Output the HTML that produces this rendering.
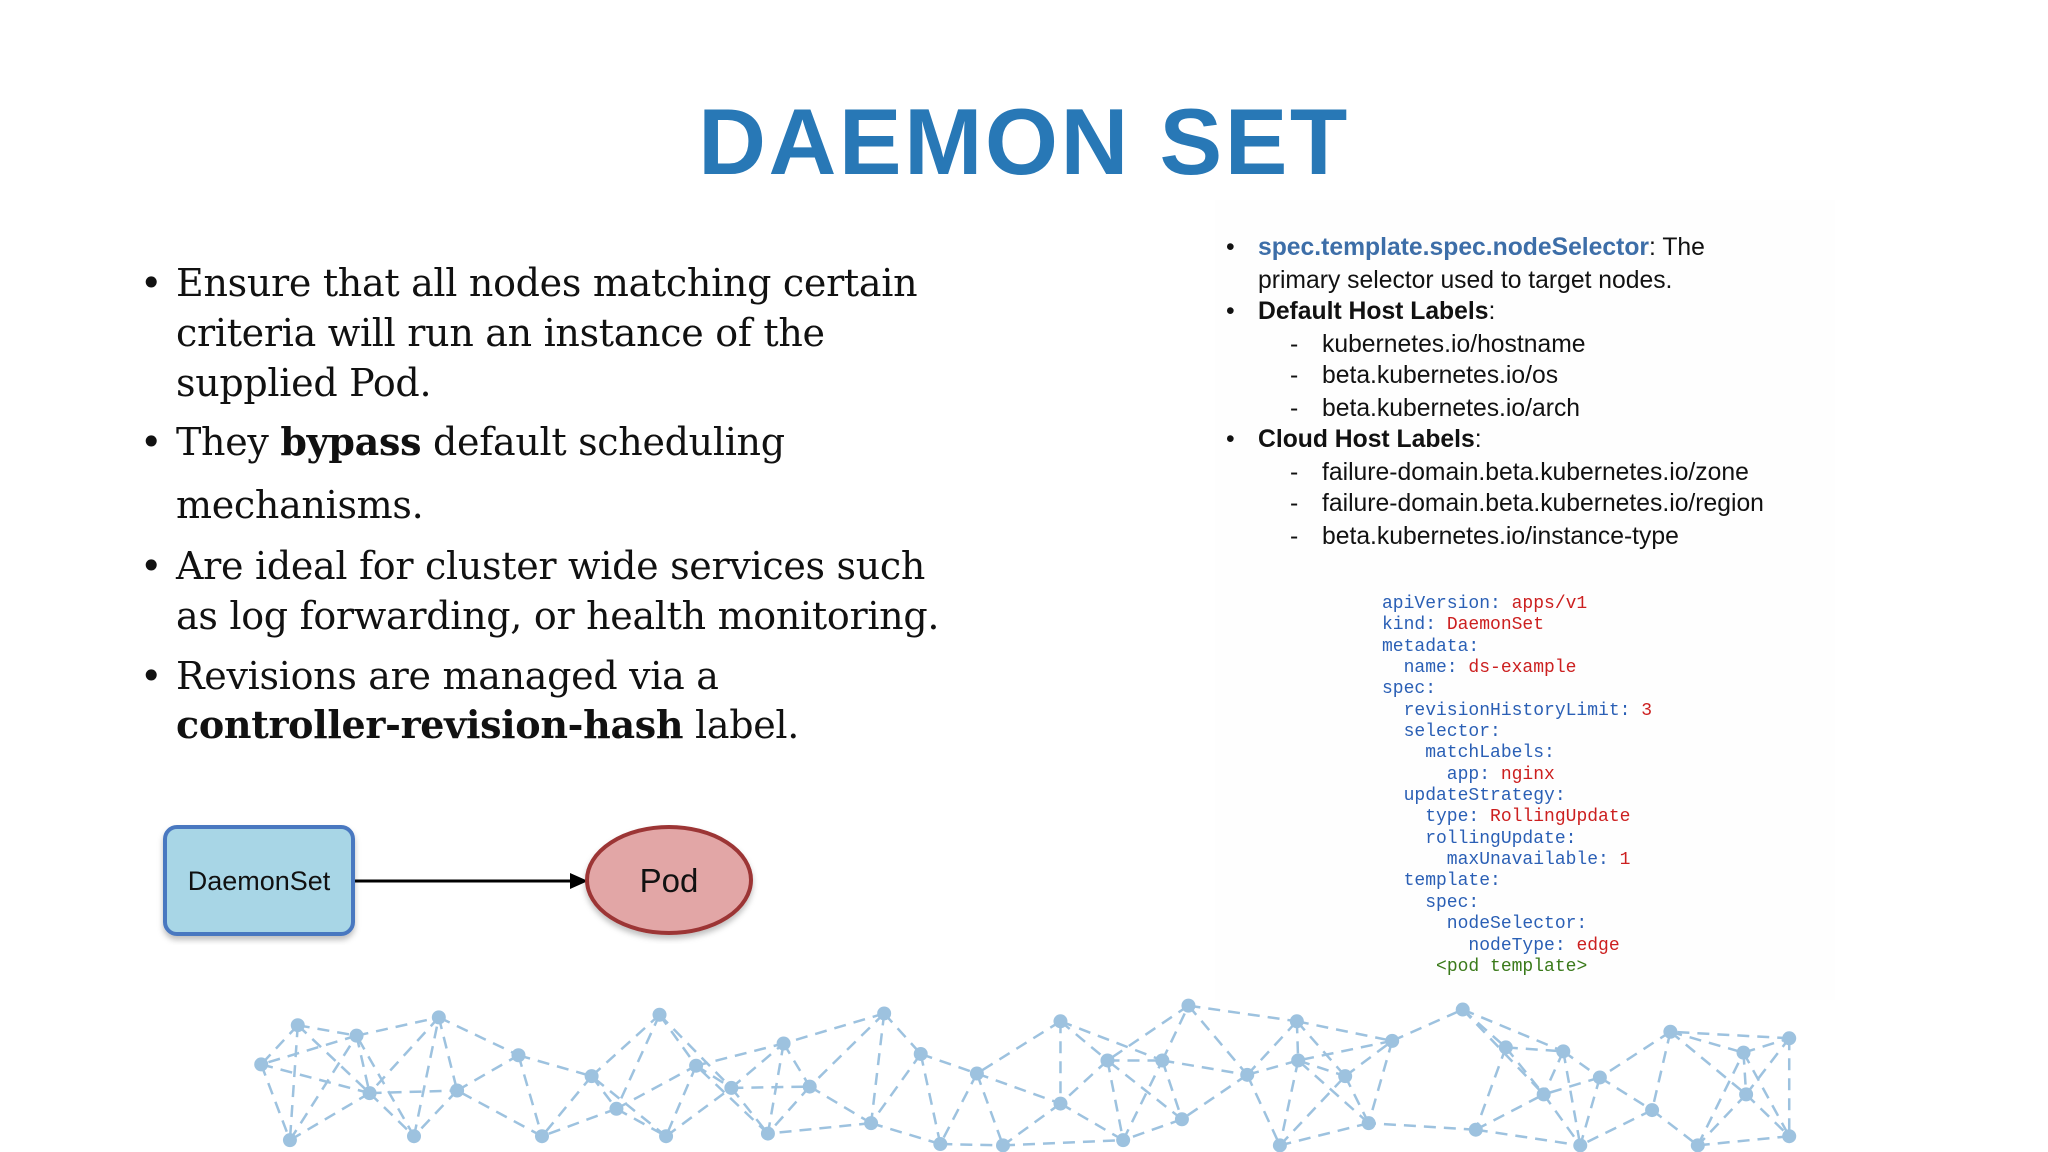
<!DOCTYPE html>
<html><head><meta charset="utf-8">
<style>
html,body{margin:0;padding:0}
body{width:2048px;height:1152px;position:relative;overflow:hidden;background:#fff;font-family:"Liberation Sans",sans-serif}
.rp{position:absolute;left:1215px;top:200px;width:620px;height:800px;background:#fefefe}
.t{position:absolute;white-space:nowrap}
.title{left:0;width:2048px;text-align:center;top:88px;font-size:94px;font-weight:bold;color:#2878b6;letter-spacing:2.5px}
.l{font-family:"DejaVu Serif",serif;font-size:38px;color:#111;left:176px;line-height:50px;letter-spacing:-0.3px}
.lb{font-family:"DejaVu Serif",serif;font-size:38px;color:#111;left:140px;line-height:50px}
.r{font-size:24.7px;color:#111;line-height:32px}
.code{position:absolute;left:1382px;top:594px;font-family:"Liberation Mono",monospace;font-size:18px;line-height:21.35px;color:#2a5fb5;white-space:pre;margin:0}
.v{color:#cc1f1f}.g{color:#3a7a1a}
</style></head><body>
<div class="rp"></div>
<div class="t title">DAEMON SET</div>

<div class="t lb" style="top:258px">•</div>
<div class="t l" style="top:258px">Ensure that all nodes matching certain</div>
<div class="t l" style="top:308px">criteria will run an instance of the</div>
<div class="t l" style="top:358px">supplied Pod.</div>
<div class="t lb" style="top:417px">•</div>
<div class="t l" style="top:417px">They <b>bypass</b> default scheduling</div>
<div class="t l" style="top:480px">mechanisms.</div>
<div class="t lb" style="top:541px">•</div>
<div class="t l" style="top:541px">Are ideal for cluster wide services such</div>
<div class="t l" style="top:591px">as log forwarding, or health monitoring.</div>
<div class="t lb" style="top:651px">•</div>
<div class="t l" style="top:651px">Revisions are managed via a</div>
<div class="t l" style="top:700px"><b>controller-revision-hash</b> label.</div>

<div class="t r" style="left:1226px;top:232px">•</div>
<div class="t r" style="left:1258px;top:232px"><b style="color:#3d6ea8">spec.template.spec.nodeSelector</b>: The</div>
<div class="t r" style="left:1258px;top:265px">primary selector used to target nodes.</div>
<div class="t r" style="left:1226px;top:296px">•</div>
<div class="t r" style="left:1258px;top:296px"><b>Default Host Labels</b>:</div>
<div class="t r" style="left:1290px;top:329px">-</div><div class="t r" style="left:1322px;top:329px">kubernetes.io/hostname</div>
<div class="t r" style="left:1290px;top:360px">-</div><div class="t r" style="left:1322px;top:360px">beta.kubernetes.io/os</div>
<div class="t r" style="left:1290px;top:393px">-</div><div class="t r" style="left:1322px;top:393px">beta.kubernetes.io/arch</div>
<div class="t r" style="left:1226px;top:424px">•</div>
<div class="t r" style="left:1258px;top:424px"><b>Cloud Host Labels</b>:</div>
<div class="t r" style="left:1290px;top:457px">-</div><div class="t r" style="left:1322px;top:457px">failure-domain.beta.kubernetes.io/zone</div>
<div class="t r" style="left:1290px;top:488px">-</div><div class="t r" style="left:1322px;top:488px">failure-domain.beta.kubernetes.io/region</div>
<div class="t r" style="left:1290px;top:521px">-</div><div class="t r" style="left:1322px;top:521px">beta.kubernetes.io/instance-type</div>

<pre class="code">apiVersion: <span class="v">apps/v1</span>
kind: <span class="v">DaemonSet</span>
metadata:
  name: <span class="v">ds-example</span>
spec:
  revisionHistoryLimit: <span class="v">3</span>
  selector:
    matchLabels:
      app: <span class="v">nginx</span>
  updateStrategy:
    type: <span class="v">RollingUpdate</span>
    rollingUpdate:
      maxUnavailable: <span class="v">1</span>
  template:
    spec:
      nodeSelector:
        nodeType: <span class="v">edge</span>
     <span class="g">&lt;pod template&gt;</span></pre>

<svg width="2048" height="1152" style="position:absolute;left:0;top:0">
<defs><filter id="sh"><feDropShadow dx="0" dy="4" stdDeviation="3" flood-opacity="0.25"/></filter></defs>
<rect x="165" y="827" width="188" height="107" rx="12" fill="#a8d6e6" stroke="#4a78c0" stroke-width="4" filter="url(#sh)"/>
<text x="259" y="890" text-anchor="middle" font-family="Liberation Sans,sans-serif" font-size="27" fill="#111">DaemonSet</text>
<line x1="355" y1="881" x2="570" y2="881" stroke="#000" stroke-width="3"/>
<polygon points="570,873 588,881 570,889" fill="#000"/>
<ellipse cx="669" cy="880" rx="82" ry="53" fill="#e2a6a6" stroke="#9c3434" stroke-width="4" filter="url(#sh)"/>
<text x="669" y="892" text-anchor="middle" font-family="Liberation Sans,sans-serif" font-size="33" fill="#111">Pod</text>
<g id="net" stroke="#9dc2df" stroke-width="2.5" stroke-dasharray="12,8" fill="#9dc2df"></g>
</svg>
<script>
var d=[[228,785],[273,793],[336,779],[200,815],[283,837],[350,835],[397,808],[453,824],[505,777],[533,816],[472,849],[560,833],[600,799],[620,832],[677,776],[705,807],[748,822],[667,860],[720,876],[812,782],[848,812],[812,845],[890,812],[910,770],[955,823],[993,782],[994,812],[1030,824],[1066,797],[1048,860],[905,857],[1120,773],[1153,802],[1197,805],[1225,825],[1182,838],[1130,865],[1279,790],[1335,806],[1337,838],[1265,850],[1370,795],[222,873],[317,870],[415,870],[510,870],[588,868],[768,877],[860,873],[980,877],[1210,877],[1300,877],[1370,870]];
var s=1.306,p=d.map(function(a){return [a[0]*s,a[1]*s]});
var g=document.getElementById('net'),h='',seen={};
p.forEach(function(a,i){
 var ds=p.map(function(b,j){return [Math.hypot(a[0]-b[0],a[1]-b[1]),j]}).sort(function(x,y){return x[0]-y[0]});
 for(var k=1;k<=4;k++){var j=ds[k][1],key=Math.min(i,j)+'_'+Math.max(i,j);if(seen[key])continue;seen[key]=1;
 h+='<line x1="'+a[0]+'" y1="'+a[1]+'" x2="'+p[j][0]+'" y2="'+p[j][1]+'"/>';}
});
p.forEach(function(a){h+='<circle cx="'+a[0]+'" cy="'+a[1]+'" r="7" stroke="none"/>'});
g.innerHTML=h;
</script>
</body></html>
